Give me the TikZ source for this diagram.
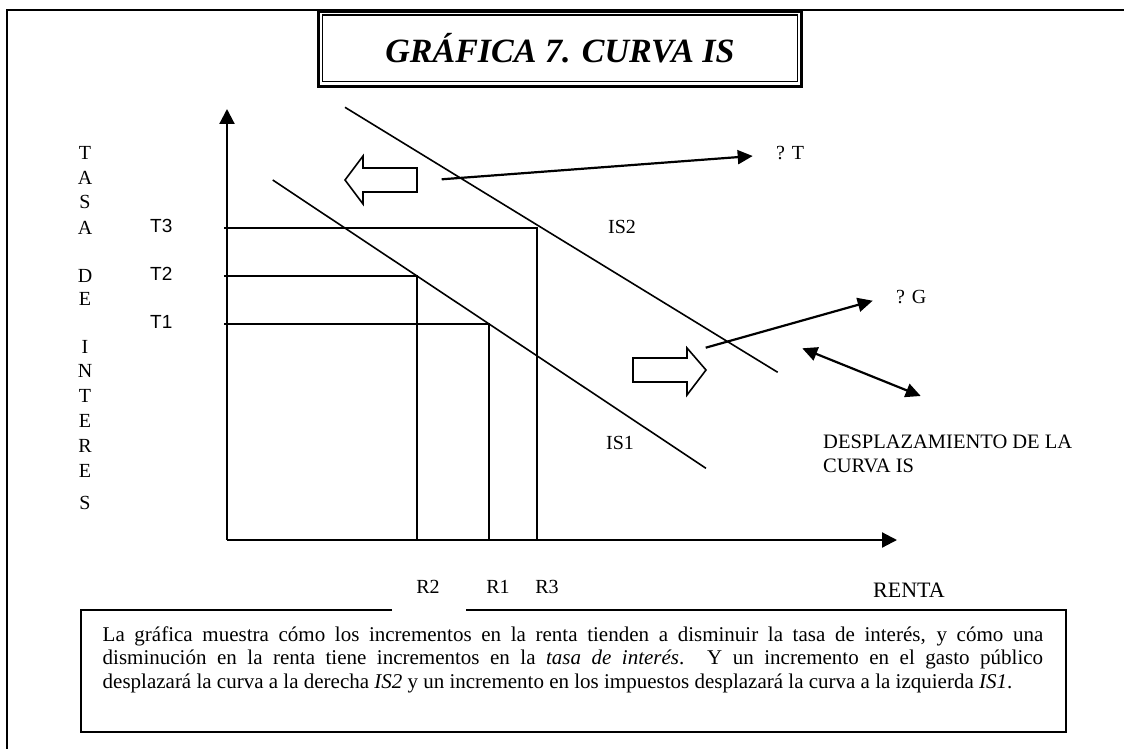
\documentclass[tikz,border=0pt]{standalone}
\usepackage{fontspec}
\setmainfont{Liberation Serif}
\newfontfamily\arialfont{Liberation Sans}
\usetikzlibrary{positioning,arrows.meta,calc}

\begin{document}
\begin{tikzpicture}[
  x=1pt, y=-1pt,
  font=\fontsize{20}{24}\selectfont,
  lbl/.style={inner sep=0pt},
  curve/.style={line width=1.6pt},
  guide/.style={line width=1.8pt},
  axis/.style={-{Triangle[length=15pt,width=15pt]}, line width=2.2pt},
  arr/.style={-{Triangle[length=15pt,width=14pt]}, line width=2.2pt},
  shiftarrow/.style={draw, line width=1.6pt, line join=miter}
]

\useasboundingbox (0,0) rectangle (1124,749);

% frame and title
\draw[line width=1.6pt] (1124,10) -- (7,10) -- (7,749);
\node[draw, line width=3pt, minimum width=483.6pt, minimum height=75.3pt] (titlebox) at (560,49.2) {};
\node[draw, line width=1.2pt, minimum width=475.6pt, minimum height=66.7pt] (title) at (560,48.3)
  {\fontsize{34}{40}\selectfont\bfseries\itshape GRÁFICA 7. CURVA IS};

% axes
\coordinate (O) at (227,540);
\coordinate (ytop) at (227,109);
\coordinate (xend) at (897,540);
\draw[axis] (O) -- (ytop);
\draw[axis] (O) -- (xend);

% vertical axis label
\foreach \l/\y [count=\i] in {T/153, A/178, S/202, A/228, D/276, E/299, I/347, N/371, T/396, E/421, R/446, E/471, S/503}
  \node[lbl] (ya\i) at (85,\y) {\l};

% levels T and R
\foreach \n/\y/\x/\rx in {3/228/537/547, 2/276/417/428, 1/324/489/498} {
  \coordinate (T\n) at (224,\y);
  \coordinate (R\n) at (\x,540);
  \draw[guide] (T\n) -| (R\n);
  \node[lbl, anchor=west, font=\arialfont\fontsize{19}{22}\selectfont] (tl\n) at (150,\y-2) {T\n};
  \node[lbl] (rl\n) at (\rx,587) {R\n};
}
\node[lbl, font=\fontsize{22}{26}\selectfont] (renta) at (909,590) {RENTA};

% IS curves
\coordinate (is1a) at (272.7,180);
\coordinate (is1b) at (706,468.3);
\coordinate (is2a) at (345,107.3);
\coordinate (is2b) at (777.7,372.3);
\draw[curve] (is1a) -- (is1b);
\draw[curve] (is2a) -- (is2b);
\node[lbl] (is1) at (620,443) {IS1};
\node[lbl] (is2) at (622,227) {IS2};

% shift arrows
\draw[shiftarrow] (345,180) -- (363,156) -- (363,168) -- (417,168) -- (417,192) -- (363,192) -- (363,204) -- cycle;
\draw[shiftarrow] (706,370) -- (687,348) -- (687,358) -- (633,358) -- (633,382) -- (687,382) -- (687,395) -- cycle;

% arrows with labels
\node[lbl, anchor=west] (dT) at (776,153) {? T};
\node[lbl, anchor=west] (dG) at (896,297) {? G};
\coordinate (tfrom) at (441.7,179.3);
\coordinate (tto) at (752.7,156);
\coordinate (gfrom) at (705.7,347.7);
\coordinate (gto) at (872.7,300.7);
\coordinate (da) at (802.3,348.3);
\coordinate (db) at (920.7,396);
\draw[arr] (tfrom) -- (tto);
\draw[arr] (gfrom) -- (gto);
\draw[arr, {Triangle[length=15pt,width=14pt]}-{Triangle[length=15pt,width=14pt]}] (da) -- (db);
\node[lbl, anchor=west, align=left, font=\fontsize{20.5}{24.3}\selectfont] (desp) at (823,454)
  {DESPLAZAMIENTO DE LA\\CURVA IS};

% note
\draw[line width=1.6pt] (392,610) -- (81,610) -- (81,732) -- (1066,732) -- (1066,610) -- (466,610);
\node[lbl, anchor=north west, text width=940.5pt, align=justify, font=\fontsize{21}{23.3}\selectfont] (note) at (102.5,626.5)
  {La gráfica muestra cómo los incrementos en la renta tienden a disminuir la tasa de interés, y cómo una\linebreak
   disminución en la renta tiene incrementos en la \textit{tasa de interés}. Y un incremento en el gasto público\linebreak
   desplazará la curva a la derecha \textit{IS2} y un incremento en los impuestos desplazará la curva a la izquierda \textit{IS1}.};

\end{tikzpicture}
\end{document}
